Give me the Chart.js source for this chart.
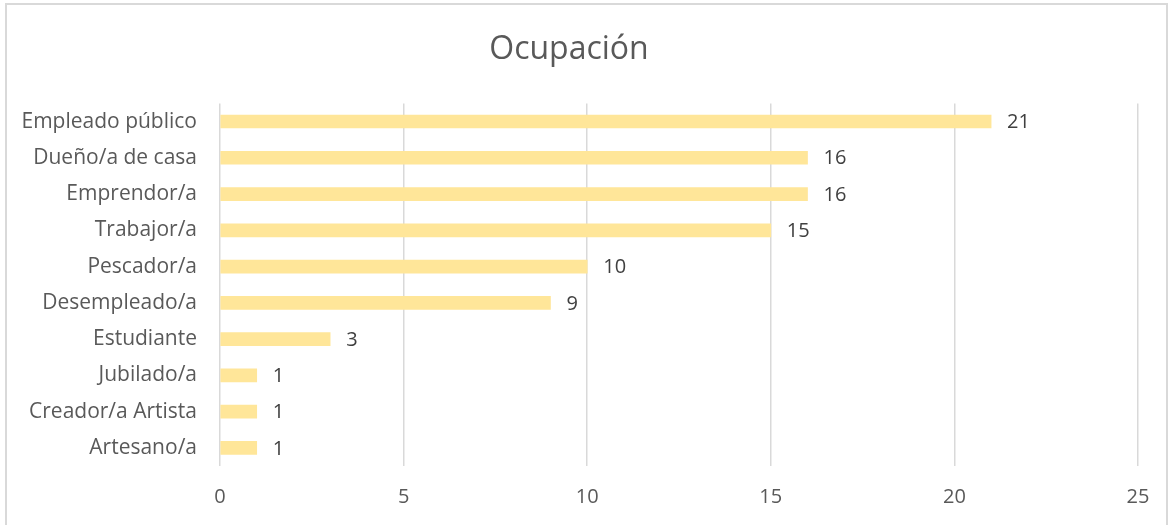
<!DOCTYPE html>
<html>
<head>
<meta charset="utf-8">
<script src="https://cdn.jsdelivr.net/npm/chart.js@4.4.0/dist/chart.umd.min.js"></script>
<style>
  html, body { margin: 0; padding: 0; background: #fff; }
  #marco { position: absolute; left: 5px; top: 3px; width: 1159px; height: 530px; border: 2px solid #d9d9d9; }
  #lienzo { position: absolute; left: 0; top: 0; width: 1171px; height: 525px; }
</style>
</head>
<body>
<div id="marco"></div>
<div id="lienzo"><canvas id="grafico" width="1171" height="525"></canvas></div>
<script>
// Datos de ocupación
const categorias = ['Empleado público', 'Dueño/a de casa', 'Emprendor/a', 'Trabajor/a', 'Pescador/a',
  'Desempleado/a', 'Estudiante', 'Jubilado/a', 'Creador/a Artista', 'Artesano/a'];
const valores = [21, 16, 16, 15, 10, 9, 3, 1, 1, 1];
const ticksX = [0, 5, 10, 15, 20, 25];

const FUENTE = '"Open Sans", "Noto Sans", sans-serif';

// etiquetas de valor a la derecha de cada barra
const etiquetas = {
  id: 'etiquetas',
  afterDatasetsDraw(chart) {
    const ctx = chart.ctx;
    const meta = chart.getDatasetMeta(0);
    ctx.save();
    ctx.font = '20px ' + FUENTE;
    ctx.fillStyle = '#404040';
    ctx.textAlign = 'left';
    ctx.textBaseline = 'middle';
    meta.data.forEach((bar, i) => {
      ctx.fillText(String(valores[i]), bar.x + 16, bar.y + 1);
    });
    ctx.restore();
  }
};

new Chart(document.getElementById('grafico'), {
  type: 'bar',
  data: {
    labels: categorias,
    datasets: [{
      data: valores,
      backgroundColor: '#FFE699',
      barThickness: 13
    }]
  },
  options: {
    indexAxis: 'y',
    responsive: false,
    animation: false,
    layout: { padding: { left: 0, right: 33, top: 0, bottom: 0 } },
    plugins: {
      legend: { display: false },
      tooltip: { enabled: false },
      title: {
        display: true,
        text: 'Ocupación',
        color: '#595959',
        font: { family: FUENTE, size: 32, weight: 'normal' },
        padding: { top: 31, bottom: 34 }
      }
    },
    scales: {
      x: {
        min: 0,
        max: 25,
        afterBuildTicks: (eje) => { eje.ticks = ticksX.map(v => ({ value: v })); },
        afterFit: (eje) => { eje.height = 59; },
        grid: { color: '#d9d9d9', lineWidth: 1.5, drawTicks: false },
        border: { display: false },
        ticks: { color: '#595959', padding: 19, font: { family: FUENTE, size: 20 } }
      },
      y: {
        afterFit: (eje) => { eje.width = 220; },
        grid: { display: false },
        border: { display: false },
        ticks: { color: '#595959', padding: 15, font: { family: FUENTE, size: 21 } }
      }
    }
  },
  plugins: [etiquetas]
});
</script>
</body>
</html>
